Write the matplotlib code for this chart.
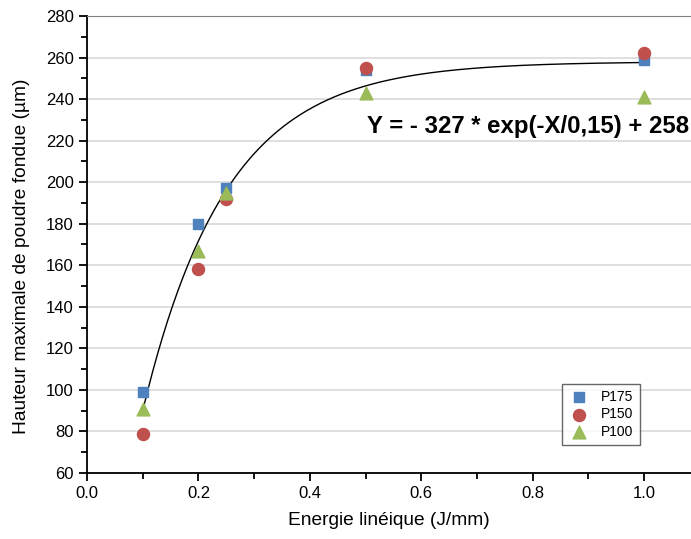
import numpy as np
import matplotlib.pyplot as plt
from matplotlib.ticker import MultipleLocator

plt.rcParams['font.family'] = ['Liberation Sans', 'DejaVu Sans']

energie = [0.1, 0.2, 0.25, 0.5, 1.0]
p175 = [99, 180, 197, 254, 259]
p150 = [79, 158, 192, 255, 262]
p100 = [91, 167, 195, 243, 241]

fit_a = -327
fit_t = 0.15
fit_c = 258


def main():
    fig = plt.figure(figsize=(6.91, 5.39), dpi=100)
    ax = fig.add_axes([0.126, 0.1224, 0.874, 0.848])

    # horizontal grid
    ax.yaxis.grid(True, color='#d9d9d9', linewidth=1.2)
    ax.set_axisbelow(True)

    # fitted curve
    x_fit = np.linspace(min(energie), max(energie), 300)
    y_fit = fit_a * np.exp(-x_fit / fit_t) + fit_c
    ax.plot(x_fit, y_fit, color='black', linewidth=1.0, zorder=2)

    ax.scatter(energie, p175, marker='s', s=60, color='#4F81BD', label='P175', zorder=3)
    ax.scatter(energie, p150, marker='o', s=75, color='#C0504D', label='P150', zorder=3)
    ax.scatter(energie, p100, marker='^', s=85, color='#9BBB59', label='P100', zorder=3)

    ax.set_xlim(0, 1.084)
    ax.set_ylim(60, 280)
    ax.xaxis.set_major_locator(MultipleLocator(0.2))
    ax.xaxis.set_minor_locator(MultipleLocator(0.1))
    ax.yaxis.set_major_locator(MultipleLocator(20))
    ax.yaxis.set_minor_locator(MultipleLocator(10))
    ax.tick_params(which='major', direction='out', length=6, width=1.3, labelsize=12, top=False, right=False)
    ax.tick_params(which='minor', direction='out', length=4, width=1.3, top=False, right=False)

    ax.spines['right'].set_visible(False)
    ax.spines['top'].set_color('#808080')
    ax.spines['left'].set_linewidth(1.3)
    ax.spines['bottom'].set_linewidth(1.3)

    ax.set_xlabel('Energie linéique (J/mm)', fontsize=13.8, labelpad=8)
    ax.set_ylabel('Hauteur maximale de poudre fondue (µm)', fontsize=13.8, labelpad=6)
    ax.yaxis.set_label_coords(-0.095, 0.475)

    ax.text(1.081, 227, 'Y = - 327 * exp(-X/0,15) + 258', fontsize=17.3, fontweight='bold',
            ha='right', va='center')

    leg = ax.legend(loc='lower left', bbox_to_anchor=(0.786, 0.061), fontsize=10,
                    frameon=True, fancybox=False, edgecolor='#404040',
                    handletextpad=0.8, borderpad=0.45, labelspacing=0.25,
                    handlelength=1.6, borderaxespad=0)
    leg.get_frame().set_linewidth(1.0)

    fig.savefig('out.png', dpi=100)


if __name__ == '__main__':
    main()
